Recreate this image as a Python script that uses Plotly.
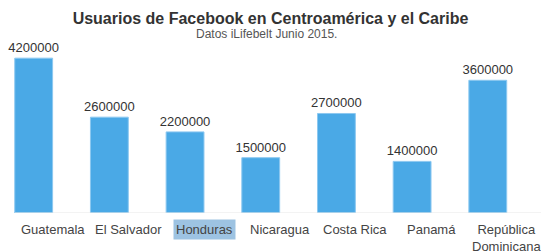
import plotly.graph_objects as go

categories = ["Guatemala", "El Salvador", "Honduras", "Nicaragua", "Costa Rica", "Panamá", "República Dominicana"]
tick_labels = ["Guatemala", "El Salvador", "Honduras", "Nicaragua", "Costa Rica", "Panamá", "República<br>Dominicana"]
users = [4200000, 2600000, 2200000, 1500000, 2700000, 1400000, 3600000]

font_family = "Liberation Sans, Arial, Helvetica, sans-serif"

fig = go.Figure()
fig.add_trace(go.Bar(
    x=categories, y=users,
    marker=dict(color="#4AA9E6", line=dict(color="#8CC8F0", width=1)),
    text=[str(v) for v in users], textposition="outside",
    textfont=dict(size=13, color="#333333", family=font_family),
    constraintext="none",
    cliponaxis=False,
))

for cat, lab in zip(categories, tick_labels):
    hl = cat == "Honduras"
    fig.add_annotation(
        x=cat, y=0, xref="x", yref="paper", yanchor="top", yshift=-6, xshift=19,
        text=lab, showarrow=False,
        font=dict(size=13, color="#444444", family=font_family),
        bgcolor="#9DC3E2" if hl else "rgba(0,0,0,0)",
        borderpad=2,
    )

fig.add_annotation(
    x=0.5, y=(213 - 34) / 173, xref="paper", yref="paper", xanchor="center", yanchor="middle",
    xshift=-4,
    text="Datos iLifebelt Junio 2015.", showarrow=False,
    font=dict(size=12, color="#555555", family=font_family),
)

fig.add_shape(type="line", xref="paper", yref="y", x0=15/541, x1=1, y0=0, y1=0,
              line=dict(color="#E6E6E6", width=1))

fig.update_layout(
    width=541, height=252,
    margin=dict(l=0, r=0, t=40, b=39),
    paper_bgcolor="white", plot_bgcolor="white",
    bargap=0.5,
    showlegend=False,
    title=dict(
        text="<b>Usuarios de Facebook en Centroamérica y el Caribe</b>",
        x=0.5, xanchor="center", y=1 - 18 / 252, yanchor="middle",
        font=dict(size=16, color="#333333", family=font_family),
    ),
    xaxis=dict(range=[-0.445, 6.703], showticklabels=False, showgrid=False, zeroline=False, showline=False, ticks=""),
    yaxis=dict(range=[0, 4693000], visible=False),
)

fig.write_html("out.html", config={"displayModeBar": False},
               post_script="document.body.style.margin='0';document.body.style.overflow='hidden';")
